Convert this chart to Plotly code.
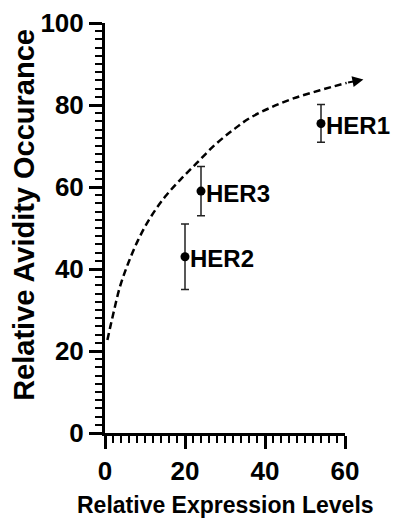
import plotly.graph_objects as go

# Data
labels = ["HER1", "HER2", "HER3"]
expr = [54, 20, 24]
avidity = [75.5, 43, 59]
err = [4.6, 8, 6]

curve_x = [0.6, 2.1, 3.75, 5.8, 8.3, 11.25, 15, 18.75, 22.9, 27.5, 32, 36, 41.25, 47.1, 53.75, 60.4]
curve_y = [22.7, 29.2, 35.7, 41.4, 47.1, 52.4, 57.6, 61.7, 65.8, 70.3, 73.9, 76.7, 79.3, 81.6, 83.6, 85.4]
arrow_tip = (64.6, 86.2)

x_ticks = [0, 20, 40, 60]
y_ticks = [0, 20, 40, 60, 80, 100]
x_minor = [v for v in range(2, 60, 2) if v % 20 != 0]

FONT = "Arial, Liberation Sans, sans-serif"

fig = go.Figure()

# dashed trend curve (on a wider companion axis so it can extend past 60)
fig.add_trace(go.Scatter(
    x=curve_x, y=curve_y, xaxis="x2", yaxis="y", mode="lines",
    line=dict(color="black", width=2.5, dash="7px,4px", shape="spline", smoothing=1),
    hoverinfo="skip", showlegend=False))

# data points with error bars
fig.add_trace(go.Scatter(
    x=expr, y=avidity, mode="markers",
    marker=dict(color="black", size=9),
    error_y=dict(type="data", array=err, visible=True, color="#222222",
                 thickness=1.5, width=4),
    cliponaxis=False, showlegend=False))

for lab, xv, yv in zip(labels, expr, avidity):
    fig.add_annotation(x=xv, y=yv, xref="x", yref="y", text=f"<b>{lab}</b>",
                       showarrow=False, xanchor="left", yanchor="middle",
                       xshift=3, yshift=-2,
                       font=dict(family=FONT, size=24, color="black"))

# arrowhead at end of curve
fig.add_annotation(x=arrow_tip[0], y=arrow_tip[1], xref="x2", yref="y",
                   ax=curve_x[-1], ay=curve_y[-1], axref="x2", ayref="y",
                   text="", showarrow=True, arrowhead=2, arrowsize=1.1,
                   arrowwidth=2, arrowcolor="black", standoff=0)

# axis titles
fig.add_annotation(x=30, y=-0.176, xref="x", yref="paper",
                   text="<b>Relative Expression Levels</b>", showarrow=False,
                   xanchor="center", yanchor="middle",
                   font=dict(family=FONT, size=23, color="black"))
fig.add_annotation(x=-0.298, y=0.532, xref="paper", yref="paper",
                   text="<b>Relative Avidity Occurance</b>", showarrow=False,
                   textangle=-90, xanchor="center", yanchor="middle",
                   font=dict(family=FONT, size=29, color="black"))

fig.update_layout(
    width=394, height=518, autosize=False,
    margin=dict(l=105, r=17, t=23, b=85, pad=0, autoexpand=False),
    paper_bgcolor="white", plot_bgcolor="rgba(0,0,0,0)",
    xaxis=dict(domain=[0, 60 / 68], range=[0, 60], tickvals=x_ticks,
               ticktext=[f"<b>{v}</b>" for v in x_ticks], automargin=False,
               showline=True, linewidth=3, linecolor="black",
               ticks="outside", ticklen=13, tickwidth=2.5, tickcolor="black",
               minor=dict(tickmode="array", tickvals=x_minor, ticks="outside",
                          ticklen=7, tickwidth=2, tickcolor="black"),
               showgrid=False, zeroline=False, anchor="y",
               tickfont=dict(family=FONT, size=26, color="black")),
    xaxis2=dict(domain=[0, 1], range=[0, 68], anchor="y", automargin=False,
                visible=False, showgrid=False, zeroline=False),
    yaxis=dict(range=[0, 100], tickvals=y_ticks,
               ticktext=[f"<b>{v}</b>" for v in y_ticks], automargin=False,
               showline=True, linewidth=3, linecolor="black",
               ticks="outside", ticklen=13, tickwidth=2.5, tickcolor="black",
               minor=dict(dtick=2, ticks="outside", ticklen=7, tickwidth=2,
                          tickcolor="black"),
               showgrid=False, zeroline=False, anchor="x",
               tickfont=dict(family=FONT, size=26, color="black")),
)

fig.write_html("out.html", config={"displayModeBar": False},
               post_script="document.body.style.margin='0';document.body.style.overflow='hidden';")
